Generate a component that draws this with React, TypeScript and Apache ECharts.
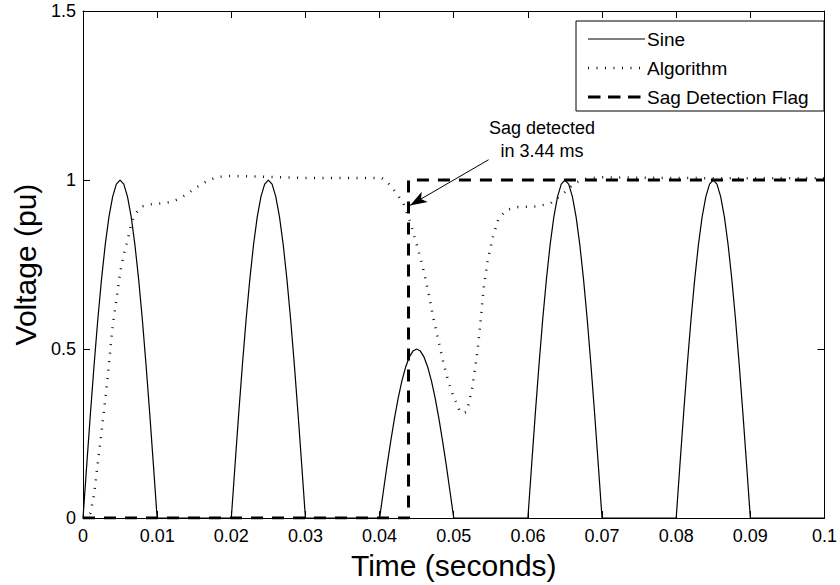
import React, { useEffect, useRef } from "react";
import * as echarts from "echarts";

const FONT = "'Liberation Sans', Arial, sans-serif";

// x axis ticks (seconds) and y axis ticks (pu)
const xTicks = [0, 0.01, 0.02, 0.03, 0.04, 0.05, 0.06, 0.07, 0.08, 0.09, 0.1];
const yTicks = [0, 0.5, 1, 1.5];

// Sine (rectified)
const sinePulse1 = [
  [0, 0], [0.0005, 0.156], [0.001, 0.309], [0.0015, 0.454], [0.002, 0.588], [0.0025, 0.707],
  [0.003, 0.809], [0.0035, 0.891], [0.004, 0.951], [0.0045, 0.988], [0.005, 1], [0.0055, 0.988],
  [0.006, 0.951], [0.0065, 0.891], [0.007, 0.809], [0.0075, 0.707], [0.008, 0.588], [0.0085, 0.454],
  [0.009, 0.309], [0.0095, 0.156], [0.01, 0],
];
const sinePulse2 = [
  [0.02, 0], [0.0205, 0.156], [0.021, 0.309], [0.0215, 0.454], [0.022, 0.588], [0.0225, 0.707],
  [0.023, 0.809], [0.0235, 0.891], [0.024, 0.951], [0.0245, 0.988], [0.025, 1], [0.0255, 0.988],
  [0.026, 0.951], [0.0265, 0.891], [0.027, 0.809], [0.0275, 0.707], [0.028, 0.588], [0.0285, 0.454],
  [0.029, 0.309], [0.0295, 0.156], [0.03, 0],
];
const sinePulse3 = [
  [0.04, 0], [0.0405, 0.078], [0.041, 0.155], [0.0415, 0.227], [0.042, 0.294], [0.0425, 0.354],
  [0.043, 0.405], [0.0435, 0.446], [0.044, 0.476], [0.0445, 0.494], [0.045, 0.5], [0.0455, 0.494],
  [0.046, 0.476], [0.0465, 0.446], [0.047, 0.405], [0.0475, 0.354], [0.048, 0.294], [0.0485, 0.227],
  [0.049, 0.155], [0.0495, 0.078], [0.05, 0],
];
const sinePulse4 = [
  [0.06, 0], [0.0605, 0.156], [0.061, 0.309], [0.0615, 0.454], [0.062, 0.588], [0.0625, 0.707],
  [0.063, 0.809], [0.0635, 0.891], [0.064, 0.951], [0.0645, 0.988], [0.065, 1], [0.0655, 0.988],
  [0.066, 0.951], [0.0665, 0.891], [0.067, 0.809], [0.0675, 0.707], [0.068, 0.588], [0.0685, 0.454],
  [0.069, 0.309], [0.0695, 0.156], [0.07, 0],
];
const sinePulse5 = [
  [0.08, 0], [0.0805, 0.156], [0.081, 0.309], [0.0815, 0.454], [0.082, 0.588], [0.0825, 0.707],
  [0.083, 0.809], [0.0835, 0.891], [0.084, 0.951], [0.0845, 0.988], [0.085, 1], [0.0855, 0.988],
  [0.086, 0.951], [0.0865, 0.891], [0.087, 0.809], [0.0875, 0.707], [0.088, 0.588], [0.0885, 0.454],
  [0.089, 0.309], [0.0895, 0.156], [0.09, 0], [0.1, 0],
];

// Algorithm output
const algorithmData = [
  [0, 0], [0.0005, 0.003], [0.001, 0.015], [0.0015, 0.07], [0.002, 0.165], [0.0025, 0.255],
  [0.003, 0.35], [0.0035, 0.455], [0.004, 0.57], [0.0045, 0.645], [0.005, 0.725], [0.0055, 0.78],
  [0.006, 0.82], [0.0065, 0.87], [0.007, 0.898], [0.0075, 0.912], [0.008, 0.922], [0.009, 0.928],
  [0.01, 0.93], [0.011, 0.932], [0.012, 0.936], [0.013, 0.945], [0.014, 0.958], [0.015, 0.974],
  [0.016, 0.988], [0.017, 1.0], [0.018, 1.008], [0.019, 1.011], [0.02, 1.012], [0.022, 1.011],
  [0.025, 1.009], [0.03, 1.006], [0.035, 1.006], [0.0403, 1.006], [0.041, 0.995], [0.0421, 0.966],
  [0.0432, 0.932], [0.0443, 0.863], [0.0452, 0.794], [0.0459, 0.735], [0.0466, 0.666], [0.0472, 0.597],
  [0.0479, 0.528], [0.0486, 0.46], [0.0492, 0.41], [0.0499, 0.363], [0.0504, 0.339], [0.0508, 0.317],
  [0.0512, 0.31], [0.0517, 0.314], [0.052, 0.337], [0.0525, 0.386], [0.053, 0.463], [0.0533, 0.514],
  [0.0537, 0.6], [0.054, 0.676], [0.0546, 0.765], [0.0553, 0.833], [0.056, 0.883], [0.0571, 0.912],
  [0.0587, 0.92], [0.0613, 0.922], [0.0631, 0.932], [0.0649, 0.962], [0.0663, 0.991], [0.068, 1.005],
  [0.07, 1.008], [0.08, 1.006], [0.09, 1.005], [0.1, 1.005],
];

// Sag detection flag
const flagData = [
  [0, 0], [0.0439, 0], [0.0439, 1], [0.1, 1],
];

// Annotation arrow (start, tip) in data units
const arrowStart = [0.0547, 1.06];
const arrowTip = [0.0441, 0.925];

const seriesNames = ["Sine", "Algorithm", "Sag Detection Flag"];
const annotationLines = ["Sag detected", "in 3.44 ms"];

export default function App() {
  const ref = useRef<HTMLDivElement>(null);

  useEffect(() => {
    if (!ref.current) return;
    const chart = echarts.init(ref.current, undefined, { renderer: "svg" });
    const sineData = [...sinePulse1, ...sinePulse2, ...sinePulse3, ...sinePulse4, ...sinePulse5];

    const axisCommon = {
      type: "value" as const,
      axisLine: { show: true, onZero: false, lineStyle: { color: "#000", width: 1 } },
      axisTick: { show: true, inside: true, length: 7, lineStyle: { color: "#000", width: 1 } },
      splitLine: { show: false },
    };

    const legendText = (text: string, y: number) => ({
      type: "text",
      x: 647,
      y,
      style: { text, fontSize: 19, fontFamily: FONT, fill: "#000", verticalAlign: "middle" },
      z: 101,
    });

    chart.setOption({
      animation: false,
      backgroundColor: "#fff",
      textStyle: { fontFamily: FONT, color: "#000" },
      grid: { left: 83, right: 13, top: 11, bottom: 66, show: false },
      xAxis: [
        {
          ...axisCommon,
          min: xTicks[0],
          max: xTicks[xTicks.length - 1],
          interval: 0.01,
          name: "Time (seconds)",
          nameLocation: "middle",
          nameGap: 29,
          nameTextStyle: { fontSize: 30, fontFamily: FONT, color: "#000" },
          axisLabel: {
            fontSize: 18, fontFamily: FONT, color: "#000", margin: 9,
            formatter: (v: number) => String(Math.round(v * 100) / 100),
          },
        },
        {
          ...axisCommon,
          position: "top",
          min: xTicks[0],
          max: xTicks[xTicks.length - 1],
          interval: 0.01,
          axisLabel: { show: false },
        },
      ],
      yAxis: [
        {
          ...axisCommon,
          min: yTicks[0],
          max: yTicks[yTicks.length - 1],
          interval: 0.5,
          name: "Voltage (pu)",
          nameLocation: "middle",
          nameGap: 40,
          nameTextStyle: { fontSize: 30, fontFamily: FONT, color: "#000" },
          axisLabel: { fontSize: 18, fontFamily: FONT, color: "#000", margin: 7 },
        },
        {
          ...axisCommon,
          position: "right",
          min: yTicks[0],
          max: yTicks[yTicks.length - 1],
          interval: 0.5,
          axisLabel: { show: false },
        },
      ],
      series: [
        {
          name: seriesNames[0],
          type: "line",
          data: sineData,
          showSymbol: false,
          symbol: "none",
          lineStyle: { color: "#000", width: 1.2 },
          z: 2,
        },
        {
          name: seriesNames[1],
          type: "line",
          data: algorithmData,
          showSymbol: false,
          symbol: "none",
          lineStyle: { color: "#111", width: 2.5, type: [1, 7.5], cap: "butt" },
          z: 3,
        },
        {
          name: seriesNames[2],
          type: "line",
          data: flagData,
          showSymbol: false,
          symbol: "none",
          lineStyle: { color: "#000", width: 3, type: [12, 9], cap: "butt" },
          z: 4,
          markLine: {
            silent: true,
            animation: false,
            symbol: ["none", "arrow"],
            symbolSize: [9, 17],
            label: { show: false },
            lineStyle: { color: "#000", width: 1, type: "solid" },
            data: [[{ coord: arrowStart }, { coord: arrowTip }]],
          },
        },
      ],
      graphic: [
        {
          type: "text",
          x: 542,
          y: 128,
          style: { text: annotationLines[0], fontSize: 18, fontFamily: FONT, fill: "#000", align: "center", verticalAlign: "middle" },
          z: 50,
        },
        {
          type: "text",
          x: 542,
          y: 151,
          style: { text: annotationLines[1], fontSize: 18, fontFamily: FONT, fill: "#000", align: "center", verticalAlign: "middle" },
          z: 50,
        },
        {
          type: "group",
          z: 100,
          children: [
            {
              type: "rect",
              shape: { x: 576, y: 21, width: 248, height: 90 },
              style: { fill: "#fff", stroke: "#000", lineWidth: 1 },
              z: 100,
            },
            {
              type: "line",
              shape: { x1: 588, y1: 39, x2: 645, y2: 39 },
              style: { stroke: "#000", lineWidth: 1.2 },
              z: 101,
            },
            {
              type: "line",
              shape: { x1: 588, y1: 68, x2: 645, y2: 68 },
              style: { stroke: "#111", lineWidth: 2.5, lineDash: [1, 7.5] },
              z: 101,
            },
            {
              type: "line",
              shape: { x1: 588, y1: 97, x2: 645, y2: 97 },
              style: { stroke: "#000", lineWidth: 3, lineDash: [12.5, 7.5] },
              z: 101,
            },
            legendText(seriesNames[0], 39),
            legendText(seriesNames[1], 68),
            legendText(seriesNames[2], 97),
          ],
        },
      ],
    });

    return () => chart.dispose();
  }, []);

  return (
    <div
      ref={ref}
      style={{ position: "fixed", left: 0, top: 0, width: 840, height: 585, background: "#fff" }}
    />
  );
}
